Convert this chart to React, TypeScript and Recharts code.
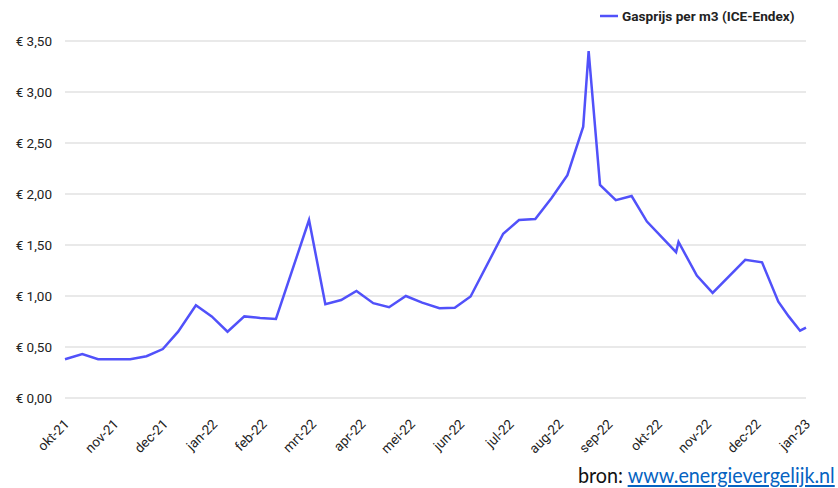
import React from "react";
import { LineChart, Line, XAxis, YAxis, CartesianGrid } from "recharts";

// Position in months since okt-21 (0 = okt-21, 15 = jan-23)
const monthOffsets = [
  0.0, 0.35, 0.67, 1.0, 1.32, 1.65, 1.98, 2.29, 2.65, 2.97, 3.29, 3.63, 3.95, 4.27,
  4.94, 5.27, 5.59, 5.9, 6.24, 6.56, 6.9, 7.23, 7.58, 7.89, 8.21, 8.87, 9.19, 9.52,
  9.85, 10.17, 10.49, 10.6, 10.83, 11.15, 11.47, 11.78, 12.37, 12.42, 12.79, 13.11,
  13.77, 14.11, 14.44, 14.65, 14.88, 15.0,
];
const gasPrices = [
  0.38, 0.43, 0.38, 0.38, 0.38, 0.41, 0.48, 0.65, 0.91, 0.8, 0.65, 0.8, 0.785, 0.775,
  1.745, 0.92, 0.96, 1.05, 0.93, 0.89, 1.0, 0.935, 0.88, 0.885, 0.995, 1.61, 1.745,
  1.755, 1.96, 2.185, 2.66, 3.4, 2.09, 1.94, 1.98, 1.73, 1.43, 1.53, 1.2, 1.03, 1.355,
  1.33, 0.945, 0.8, 0.66, 0.69,
];
const monthLabels = [
  "okt-21", "nov-21", "dec-21", "jan-22", "feb-22", "mrt-22", "apr-22", "mei-22",
  "jun-22", "jul-22", "aug-22", "sep-22", "okt-22", "nov-22", "dec-22", "jan-23",
];
const yTicks = [0, 0.5, 1, 1.5, 2, 2.5, 3, 3.5];
const seriesName = "Gasprijs per m3 (ICE-Endex)";

const data = monthOffsets.map((m, i) => ({ m, price: gasPrices[i] }));
const xTicks = monthLabels.map((_, i) => i);

const LINE_COLOR = "#5151fa";
const FONT = "Roboto, 'Noto Sans', sans-serif";

const XTick = (props: any) => {
  const { x, payload } = props;
  const label = monthLabels[payload.value] ?? "";
  const ax = x + 5;
  const ay = 425;
  return (
    <text
      x={ax}
      y={ay}
      transform={`rotate(-45, ${ax}, ${ay})`}
      textAnchor="end"
      fontSize={13.5}
      fontFamily={FONT}
      fill="#222"
    >
      {label}
    </text>
  );
};

export default function App() {
  return (
    <div style={{ position: "absolute", left: 0, top: 0, width: 838, height: 488, background: "#fff", overflow: "hidden" }}>
      <LineChart
        width={838}
        height={488}
        data={data}
        margin={{ top: 41, right: 32, bottom: 30, left: 0 }}
      >
        <CartesianGrid vertical={false} stroke="#e2e2e2" strokeWidth={1.5} />
        <XAxis
          dataKey="m"
          type="number"
          domain={[0, 15]}
          ticks={xTicks}
          interval={0}
          axisLine={false}
          tickLine={false}
          height={60}
          tick={<XTick />}
        />
        <YAxis
          type="number"
          domain={[0, 3.5]}
          ticks={yTicks}
          width={65}
          axisLine={false}
          tickLine={false}
          tickMargin={7}
          tick={{ fontSize: 13.5, fill: "#222", fontFamily: FONT }}
          tickFormatter={(v: number) => "€ " + v.toFixed(2).replace(".", ",")}
        />
        <Line
          type="linear"
          dataKey="price"
          name={seriesName}
          stroke={LINE_COLOR}
          strokeWidth={2.5}
          dot={false}
          isAnimationActive={false}
        />
      </LineChart>
      <div
        style={{
          position: "absolute",
          left: 599,
          top: 8,
          display: "flex",
          alignItems: "center",
          fontFamily: FONT,
          whiteSpace: "nowrap",
        }}
      >
        <svg width={20} height={10} style={{ marginRight: 3 }}>
          <line x1={1} y1={5} x2={19} y2={5} stroke={LINE_COLOR} strokeWidth={2.5} />
        </svg>
        <span style={{ fontSize: 13.6, fontWeight: 700, color: "#222" }}>{seriesName}</span>
      </div>
      <div
        style={{
          position: "absolute",
          left: 578,
          top: 462,
          fontFamily: "Lato, 'Open Sans', sans-serif",
          fontSize: 21,
          color: "#111",
          whiteSpace: "nowrap",
          transform: "scaleX(0.94)",
          transformOrigin: "left top",
        }}
      >
        bron:{" "}
        <span style={{ color: "#0563c1", textDecoration: "underline" }}>www.energievergelijk.nl</span>
      </div>
    </div>
  );
}
